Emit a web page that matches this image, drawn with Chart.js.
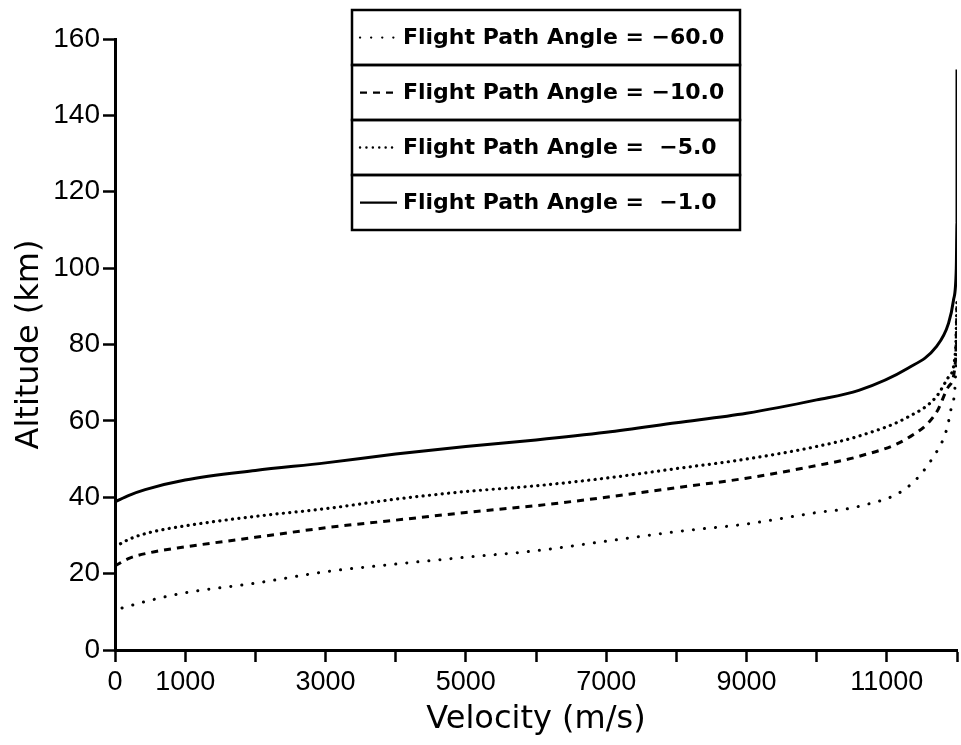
<!DOCTYPE html>
<html>
<head>
<meta charset="utf-8">
<script src="https://cdn.jsdelivr.net/npm/chart.js@4.4.0/dist/chart.umd.min.js"></script>
<style>
  html, body { margin: 0; padding: 0; background: #fff; }
  #wrap { width: 961px; height: 745px; }
</style>
</head>
<body>
<div id="wrap"><canvas id="altitudeChart" width="961" height="745"></canvas></div>
<script>
// legend labels, top to bottom
const angleLabels = [
    'Flight Path Angle = \u221260.0',
    'Flight Path Angle = \u221210.0',
    'Flight Path Angle =  \u22125.0',
    'Flight Path Angle =  \u22121.0'
];

// velocity (m/s) / altitude (km)
const vel60 = [100, 500, 1000, 2000, 3000, 4000, 5000, 6000, 7000, 8000, 9000, 10000, 10600, 11300, 11660, 11850, 11920, 11975, 12000];
const alt60 = [11, 13, 15, 17.5, 20.5, 22.5, 24.3, 26, 28.5, 31, 33, 36, 37.6, 42.7, 50.5, 57.6, 63.6, 70, 85];

const vel10 = [0, 200, 500, 1000, 2000, 3000, 4000, 5000, 6000, 7000, 8000, 9000, 10000, 10600, 11300, 11700, 11880, 11980, 12000];
const alt10 = [22, 24, 25.5, 27, 29.5, 32, 34, 36, 37.8, 40, 42.5, 45, 48.3, 50.7, 55.5, 62, 69, 76, 90];

const vel5 = [0, 200, 500, 1000, 2000, 3000, 4000, 5000, 6000, 7000, 8000, 9000, 10000, 10600, 11300, 11700, 11880, 11980, 12000];
const alt5 = [27, 29, 30.8, 32.5, 35, 37, 39.5, 41.5, 43, 45, 47.5, 50, 53.3, 56, 61, 66.2, 71.5, 78.5, 92];

const vel1 = [0, 200, 430, 1000, 2000, 3000, 4000, 5000, 6000, 7000, 8000, 9000, 10000, 10600, 11300, 11700, 11880, 11950, 11990, 12000, 12000];
const alt1 = [38.8, 40.5, 42, 44.5, 47, 49, 51.3, 53.3, 55, 57, 59.5, 62, 65.5, 68, 73.8, 79.3, 85.6, 91.6, 100, 112, 152];

const xLabelTicks = [0, 1000, 3000, 5000, 7000, 9000, 11000];

function toPoints(xs, ys) {
    return xs.map((x, i) => ({ x: x, y: ys[i] }));
}

// boxed legend, one box per row like the original
const boxLegend = {
    id: 'boxLegend',
    afterDraw(chart) {
        const ctx = chart.ctx;
        const left = 352, top = 10, w = 388, rowH = 55;
        chart.data.datasets.forEach((ds, i) => {
            const y = top + i * rowH;
            const cy = y + rowH / 2;
            ctx.save();
            ctx.strokeStyle = '#000';
            ctx.lineWidth = 2.5;
            ctx.strokeRect(left, y, w, rowH);
            ctx.setLineDash(ds.borderDash || []);
            ctx.lineCap = ds.borderCapStyle || 'butt';
            ctx.lineWidth = ds.borderWidth * 0.75;
            ctx.beginPath();
            ctx.moveTo(left + 8, cy);
            ctx.lineTo(left + 45, cy);
            ctx.stroke();
            ctx.setLineDash([]);
            ctx.fillStyle = '#000';
            ctx.font = 'bold 22px "DejaVu Sans"';
            ctx.textBaseline = 'middle';
            ctx.fillText(ds.label, left + 51, cy + 1);
            ctx.restore();
        });
    }
};

const ctx = document.getElementById('altitudeChart').getContext('2d');
new Chart(ctx, {
    type: 'scatter',
    data: {
        datasets: [{
            label: angleLabels[0],
            data: toPoints(vel60, alt60),
            borderColor: '#000',
            borderWidth: 3,
            borderDash: [0.1, 11],
            borderCapStyle: 'round'
        }, {
            label: angleLabels[1],
            data: toPoints(vel10, alt10),
            borderColor: '#000',
            borderWidth: 3,
            borderDash: [7, 6],
            borderCapStyle: 'butt'
        }, {
            label: angleLabels[2],
            data: toPoints(vel5, alt5),
            borderColor: '#000',
            borderWidth: 3.2,
            borderDash: [0.1, 6.3],
            borderCapStyle: 'round'
        }, {
            label: angleLabels[3],
            data: toPoints(vel1, alt1),
            borderColor: '#000',
            borderWidth: 3
        }]
    },
    options: {
        responsive: false,
        animation: false,
        showLine: true,
        elements: {
            point: { radius: 0, hoverRadius: 0 },
            line: { cubicInterpolationMode: 'monotone', fill: false }
        },
        layout: {
            padding: { top: 39, right: 1, left: 0, bottom: 0 }
        },
        plugins: {
            legend: { display: false },
            tooltip: { enabled: false }
        },
        scales: {
            x: {
                type: 'linear',
                min: 0,
                max: 12000,
                afterFit: function (scale) { scale.height = 95; },
                border: { display: true, color: '#000', width: 3 },
                grid: { drawOnChartArea: false, drawTicks: true, tickLength: 12, tickWidth: 2.5, tickColor: '#000' },
                ticks: {
                    stepSize: 1000,
                    autoSkip: false,
                    maxRotation: 0,
                    padding: 4,
                    color: '#000',
                    font: { family: 'Liberation Sans', size: 27 },
                    callback: function (value) {
                        return xLabelTicks.includes(value) ? String(value) : '';
                    }
                },
                title: {
                    display: true,
                    text: 'Velocity (m/s)',
                    color: '#000',
                    font: { family: 'DejaVu Sans', size: 32 },
                    padding: { top: 0, bottom: 6 }
                }
            },
            y: {
                type: 'linear',
                min: 0,
                max: 160,
                afterFit: function (scale) { scale.width = 115; },
                border: { display: true, color: '#000', width: 3 },
                grid: { drawOnChartArea: false, drawTicks: true, tickLength: 12, tickWidth: 2.5, tickColor: '#000' },
                ticks: {
                    stepSize: 20,
                    padding: 3,
                    color: '#000',
                    font: { family: 'Liberation Sans', size: 28 }
                },
                title: {
                    display: true,
                    text: 'Altitude (km)',
                    color: '#000',
                    font: { family: 'DejaVu Sans', size: 32 },
                    padding: { top: 10, bottom: 0 }
                }
            }
        }
    },
    plugins: [boxLegend]
});
</script>
</body>
</html>
